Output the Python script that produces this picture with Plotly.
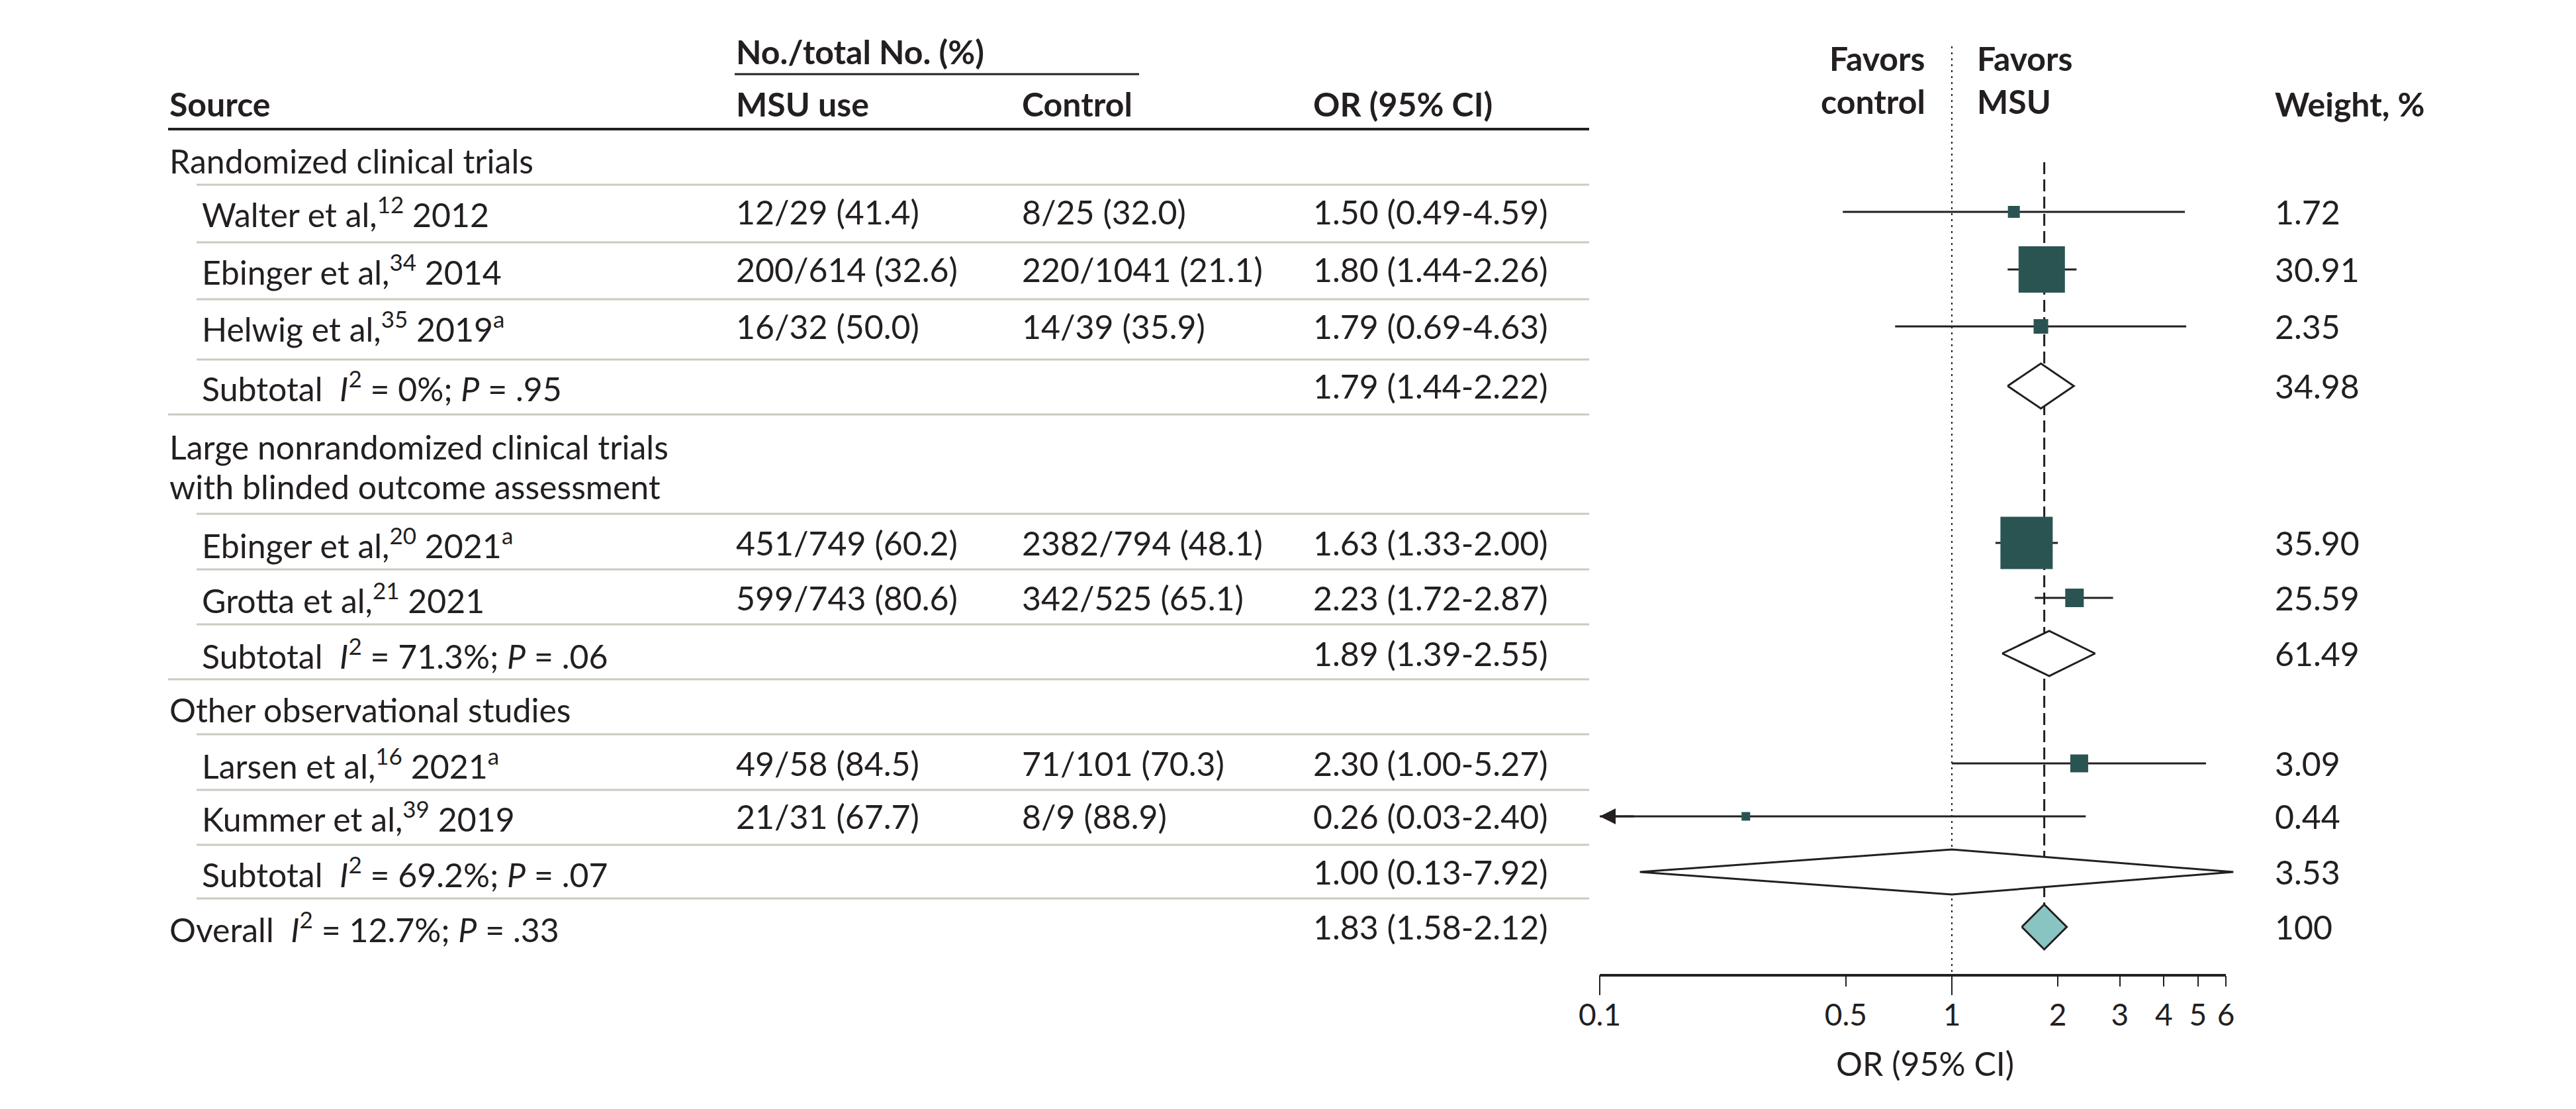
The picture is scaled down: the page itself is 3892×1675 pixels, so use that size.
import math
import plotly.graph_objects as go

# ---- data -------------------------------------------------------------
section_names = [
    "Randomized clinical trials",
    "Large nonrandomized clinical trials",
    "Other observational studies",
]
section_sub = ["", "with blinded outcome assessment", ""]

study_labels = [
    "Walter et al,<sup>12</sup> 2012",
    "Ebinger et al,<sup>34</sup> 2014",
    "Helwig et al,<sup>35</sup> 2019<sup>a</sup>",
    "Ebinger et al,<sup>20</sup> 2021<sup>a</sup>",
    "Grotta et al,<sup>21</sup> 2021",
    "Larsen et al,<sup>16</sup> 2021<sup>a</sup>",
    "Kummer et al,<sup>39</sup> 2019",
]
msu_use = ["12/29 (41.4)", "200/614 (32.6)", "16/32 (50.0)", "451/749 (60.2)",
           "599/743 (80.6)", "49/58 (84.5)", "21/31 (67.7)"]
control = ["8/25 (32.0)", "220/1041 (21.1)", "14/39 (35.9)", "2382/794 (48.1)",
           "342/525 (65.1)", "71/101 (70.3)", "8/9 (88.9)"]
study_or = [1.50, 1.80, 1.79, 1.63, 2.23, 2.30, 0.26]
study_lo = [0.49, 1.44, 0.69, 1.33, 1.72, 1.00, 0.03]
study_hi = [4.59, 2.26, 4.63, 2.00, 2.87, 5.27, 2.40]
study_weight = ["1.72", "30.91", "2.35", "35.90", "25.59", "3.09", "0.44"]

subtotal_i2 = ["0%", "71.3%", "69.2%"]
subtotal_p = [".95", ".06", ".07"]
subtotal_or = [1.79, 1.89, 1.00]
subtotal_lo = [1.44, 1.39, 0.13]
subtotal_hi = [2.22, 2.55, 7.92]
subtotal_weight = ["34.98", "61.49", "3.53"]

overall_i2, overall_p = "12.7%", ".33"
overall_or, overall_lo, overall_hi = 1.83, 1.58, 2.12
overall_weight = "100"

tick_vals = [0.1, 0.5, 1, 2, 3, 4, 5, 6]
long_ticks = [0.1, 1]

# ---- layout / style ---------------------------------------------------
W, H = 3892, 1675
FONT = "Lato"
FS = 50
INK = "#231F20"
BOX = "#2A5452"
DIAMOND_FILL = "#88C4C2"
RULE = "#C9CBBF"

X_MIN, X_MAX = 0.1, 6.3          # plotted OR range
PX_AT_MIN, DECADE_PX = 2417, 532  # pixel of 0.1, pixels per decade
DOM_L, DOM_R = 2380, 3420

section_y = [243, 675, 1072]
study_y = [320, 407, 493, 820, 903, 1153, 1233]
box_px = [18, 70, 22, 79, 28, 27, 13]
subtotal_y = [583, 987, 1317]
overall_y = 1400
DIAMOND_HALF = 34
AXIS_Y = 1473

COL_SRC, COL_IND, COL_MSU, COL_CTL, COL_OR, COL_WT = 254, 303, 1110, 1542, 1982, 3435
TABLE_R = 2401
rules_indented = [279, 366, 452, 543, 776, 860, 943, 1109, 1193, 1276, 1357]
rules_full = [626, 1026]

NB = "\u00a0"

fig = go.Figure()

# reference lines
fig.add_trace(go.Scatter(x=[1, 1], y=[70, AXIS_Y], mode="lines",
                         line=dict(color=INK, width=2, dash="3px,6px"), hoverinfo="skip"))
fig.add_trace(go.Scatter(x=[overall_or, overall_or], y=[245, overall_y - DIAMOND_HALF], mode="lines",
                         line=dict(color=INK, width=3, dash="18px,8px"), hoverinfo="skip"))

# confidence intervals
ci_x, ci_y = [], []
for lo, hi, y in zip(study_lo, study_hi, study_y):
    ci_x += [max(lo, X_MIN), min(hi, X_MAX), None]
    ci_y += [y, y, None]
fig.add_trace(go.Scatter(x=ci_x, y=ci_y, mode="lines", line=dict(color=INK, width=3),
                         hoverinfo="skip"))

# study boxes
fig.add_trace(go.Scatter(x=study_or, y=study_y, mode="markers", cliponaxis=False,
                         marker=dict(symbol="square", size=box_px, color=BOX, opacity=1,
                                     line_width=0),
                         hoverinfo="skip"))

# arrows for truncated intervals
for lo, y in zip(study_lo, study_y):
    if lo < X_MIN:
        fig.add_annotation(x=math.log10(X_MIN), y=y, xref="x", yref="y",
                           ax=math.log10(X_MIN) + 0.1, ay=y, axref="x", ayref="y",
                           text="", showarrow=True, arrowhead=2, arrowsize=1.6,
                           arrowwidth=3, arrowcolor=INK)


def diamond(est, lo, hi, y, fill):
    lo, hi = max(lo, X_MIN), min(hi, X_MAX)
    fig.add_trace(go.Scatter(
        x=[lo, est, hi, est, lo],
        y=[y, y - DIAMOND_HALF, y, y + DIAMOND_HALF, y],
        mode="lines", fill="toself", fillcolor=fill,
        line=dict(color=INK, width=3), hoverinfo="skip"))


for est, lo, hi, y in zip(subtotal_or, subtotal_lo, subtotal_hi, subtotal_y):
    diamond(est, lo, hi, y, "white")
diamond(overall_or, overall_lo, overall_hi, overall_y, DIAMOND_FILL)

# axis line and long ticks
fig.add_trace(go.Scatter(x=[tick_vals[0], tick_vals[-1]], y=[AXIS_Y, AXIS_Y], mode="lines",
                         line=dict(color=INK, width=4), hoverinfo="skip"))
lt_x, lt_y = [], []
for v in long_ticks:
    lt_x += [v, v, None]
    lt_y += [AXIS_Y, AXIS_Y + 30, None]
fig.add_trace(go.Scatter(x=lt_x, y=lt_y, mode="lines", line=dict(color=INK, width=2),
                         hoverinfo="skip"))


# ---- table text --------------------------------------------------------
def txt(x, y, s, anchor="left", size=FS, bold=False, align="left"):
    if bold:
        s = f"<b>{s}</b>"
    fig.add_annotation(x=x / W, y=y, xref="paper", yref="y", text=s, showarrow=False,
                       xanchor=anchor, yanchor="middle", align=align,
                       font=dict(family=FONT, size=size, color=INK))


HEAD_Y = 157
txt(COL_MSU, 78, "No./total No. (%)", bold=True)
txt(COL_SRC, HEAD_Y, "Source", bold=True)
txt(COL_MSU, HEAD_Y, "MSU use", bold=True)
txt(COL_CTL, HEAD_Y, "Control", bold=True)
txt(COL_OR, HEAD_Y, "OR (95% CI)", bold=True)
txt(2911, 88, "Favors", anchor="right", bold=True)
txt(2911, 153, "control", anchor="right", bold=True)
txt(2985, 88, "Favors", bold=True)
txt(2985, 153, "MSU", bold=True)
txt(COL_WT, HEAD_Y, "Weight, %", bold=True)

for name, sub, y in zip(section_names, section_sub, section_y):
    txt(COL_SRC, y, name)
    if sub:
        txt(COL_SRC, y + 60, sub)

for lab, m, c, est, lo, hi, w, y in zip(study_labels, msu_use, control, study_or,
                                        study_lo, study_hi, study_weight, study_y):
    txt(COL_IND, y, lab)
    txt(COL_MSU, y, m)
    txt(COL_CTL, y, c)
    txt(COL_OR, y, f"{est:.2f} ({lo:.2f}-{hi:.2f})")
    txt(COL_WT, y, w)

for i2, p, est, lo, hi, w, y in zip(subtotal_i2, subtotal_p, subtotal_or, subtotal_lo,
                                    subtotal_hi, subtotal_weight, subtotal_y):
    txt(COL_IND, y, f"Subtotal{NB}{NB}<i>I</i><sup>2</sup>{NB}={NB}{i2}; <i>P</i>{NB}={NB}{p}")
    txt(COL_OR, y, f"{est:.2f} ({lo:.2f}-{hi:.2f})")
    txt(COL_WT, y, w)

txt(COL_SRC, overall_y,
    f"Overall{NB}{NB}<i>I</i><sup>2</sup>{NB}={NB}{overall_i2}; <i>P</i>{NB}={NB}{overall_p}")
txt(COL_OR, overall_y, f"{overall_or:.2f} ({overall_lo:.2f}-{overall_hi:.2f})")
txt(COL_WT, overall_y, overall_weight)

txt(2908, 1606, "OR (95% CI)", anchor="center")

# rules
shapes = [
    dict(type="line", xref="paper", yref="y", x0=COL_MSU / W, x1=1721 / W, y0=112, y1=112,
         line=dict(color=INK, width=3)),
    dict(type="line", xref="paper", yref="y", x0=COL_SRC / W, x1=TABLE_R / W, y0=195, y1=195,
         line=dict(color=INK, width=4)),
]
for y in rules_indented:
    shapes.append(dict(type="line", xref="paper", yref="y", x0=297 / W, x1=TABLE_R / W,
                       y0=y, y1=y, line=dict(color=RULE, width=3)))
for y in rules_full:
    shapes.append(dict(type="line", xref="paper", yref="y", x0=COL_SRC / W, x1=TABLE_R / W,
                       y0=y, y1=y, line=dict(color=RULE, width=3)))

log_min = math.log10(X_MIN)
fig.update_layout(
    width=W, height=H, autosize=False,
    margin=dict(l=0, r=0, t=0, b=0),
    paper_bgcolor="white", plot_bgcolor="rgba(0,0,0,0)",
    showlegend=False, shapes=shapes,
    font=dict(family=FONT, size=FS, color=INK),
    xaxis=dict(
        type="log",
        domain=[DOM_L / W, DOM_R / W],
        range=[log_min - (PX_AT_MIN - DOM_L) / DECADE_PX,
               log_min + (DOM_R - PX_AT_MIN) / DECADE_PX],
        anchor="free", position=1 - AXIS_Y / H,
        tickmode="array", tickvals=tick_vals, ticktext=[f"{v:g}" for v in tick_vals],
        ticks="outside", ticklen=16, tickwidth=2, tickcolor=INK,
        ticklabelstandoff=4,
        tickfont=dict(family=FONT, size=46, color=INK),
        showline=False, showgrid=False, zeroline=False,
    ),
    yaxis=dict(range=[H, 0], domain=[0, 1], visible=False, showgrid=False, zeroline=False),
)

fig.write_html("out.html", config={"displayModeBar": False},
               post_script="document.body.style.margin='0';document.body.style.overflow='hidden';")
